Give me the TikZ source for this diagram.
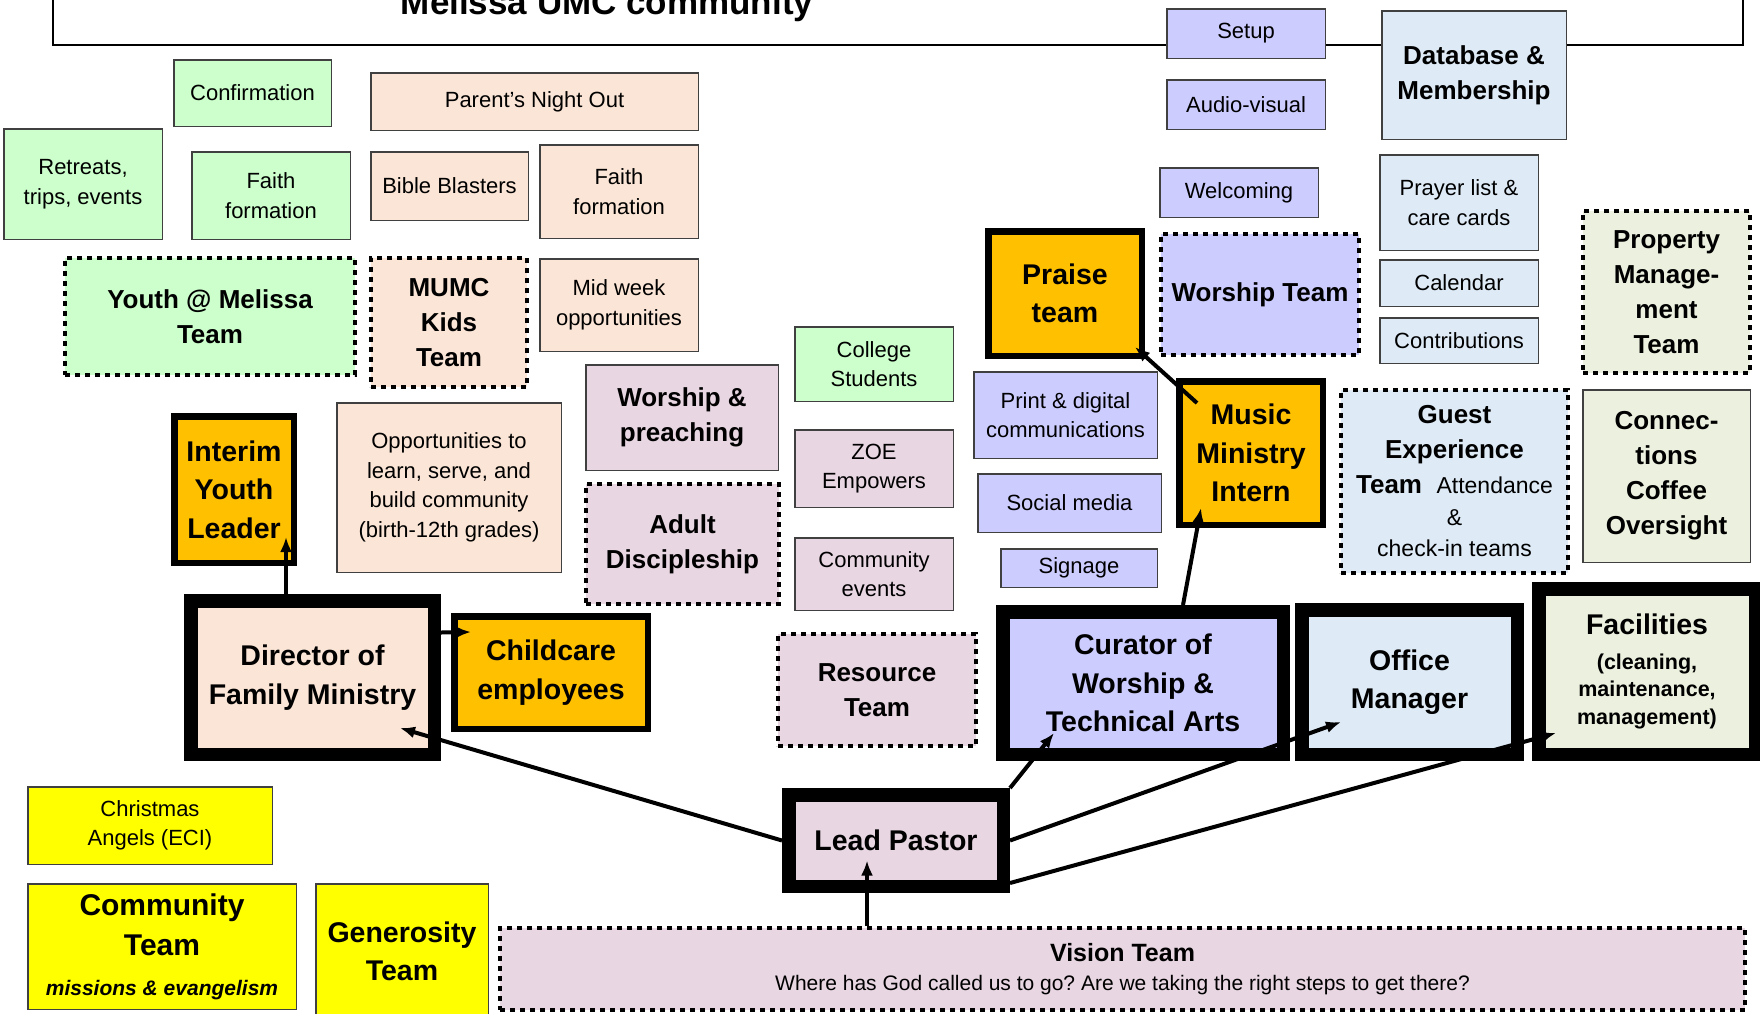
\documentclass[tikz,border=0pt]{standalone}
\usepackage{fontspec}
\setmainfont{Liberation Sans}
\usepackage{tikz}
\usetikzlibrary{arrows.meta}
\frenchspacing
\definecolor{MUMCGreen}{HTML}{CCFFCC}
\definecolor{MUMCPeach}{HTML}{FBE5D6}
\definecolor{MUMCLilac}{HTML}{CCCCFF}
\definecolor{MUMCBlue}{HTML}{DEEBF7}
\definecolor{MUMCMauve}{HTML}{E8D6E2}
\definecolor{MUMCSage}{HTML}{EBF1DE}
\definecolor{MUMCOrange}{HTML}{FFC000}
\definecolor{MUMCYellow}{HTML}{FFFF00}
\definecolor{MUMCEdge}{HTML}{404040}
\newcommand{\smalltxt}{\fontsize{22}{29.5}\selectfont}
\newcommand{\teamtxt}{\bfseries\fontsize{26}{35}\selectfont}
\newcommand{\stafftxt}{\bfseries\fontsize{28.5}{38.5}\selectfont}
\newcommand{\titletxt}{\bfseries\fontsize{35}{40}\selectfont}
\newcommand{\notetxt}{\mdseries\fontsize{23}{31}\selectfont}
\newcommand{\dutytxt}{\fontsize{21.5}{27.5}\selectfont}
\tikzset{
    plainbox/.style={
        draw=MUMCEdge, line width=1.5pt, align=center, inner sep=2pt, font=\smalltxt
    },
    teambox/.style={
        draw=black, line width=4pt, dash pattern=on 5pt off 5pt, align=center, inner sep=2pt, font=\teamtxt
    },
    staffbox/.style={
        draw=black, line width=13.5pt, align=center, inner sep=2pt, font=\stafftxt
    },
    helperbox/.style={
        draw=black, line width=6.5pt, fill=MUMCOrange, align=center, inner sep=2pt, font=\stafftxt
    },
    sz/.style 2 args={
        minimum width=#1, minimum height=#2
    },
    ptr/.style={
        -{Latex[length=15pt, width=12pt]}, line width=4pt
    }
}
\begin{document}
\begin{tikzpicture}[x=1pt, y=-1pt]
\path[use as bounding box, clip] (0,0) rectangle (1760,1013);
\fill[white] (0,0) rectangle (1760,1013);
\node[draw=black, line width=1.5pt, sz={1690}{80}] (frame) at (898,5) {};
\node[font=\titletxt, anchor=base] (title) at (607,14) {Melissa UMC community};
% family ministry
\node[plainbox, fill=MUMCGreen, sz={157.5}{66.5}] (conf) at (252.5,93) {Confirmation};
\node[plainbox, fill=MUMCGreen, sz={158.5}{110.5}] (retreats) at (83,184) {Retreats,\\ trips, events};
\node[plainbox, fill=MUMCGreen, sz={158.5}{87.5}] (faithyouth) at (271,195.5) {Faith\\ formation};
\node[teambox, fill=MUMCGreen, sz={290}{117}] (youth) at (210,316.5) {Youth @ Melissa\\ Team};
\node[plainbox, fill=MUMCPeach, sz={327.5}{57.5}] (nightout) at (534.5,101.5) {Parent’s Night Out};
\node[plainbox, fill=MUMCPeach, sz={157.5}{68.5}] (blasters) at (449.5,186) {Bible Blasters};
\node[plainbox, fill=MUMCPeach, sz={158.5}{93.5}] (faithkids) at (619,191.5) {Faith\\ formation};
\node[teambox, fill=MUMCPeach, sz={156}{129}] (kids) at (449,322.5) {MUMC\\ Kids\\ Team};
\node[plainbox, fill=MUMCPeach, sz={158.5}{92.5}] (midweek) at (619,305) {Mid week\\ opportunities};
\node[plainbox, fill=MUMCPeach, sz={224.5}{169.5}] (opps) at (449,487.5) {Opportunities to\\ learn, serve, and\\ build community\\ (birth-12th grades)};
\node[helperbox, sz={119.5}{146.5}] (interim) at (234,489.5) {Interim\\ Youth\\ Leader};
\node[staffbox, fill=MUMCPeach, sz={243.5}{153.5}] (director) at (312.5,677.5) {Director of\\ Family Ministry};
\node[helperbox, sz={193.5}{112.5}] (childcare) at (551,672.5) {Childcare\\ employees};
% discipleship
\node[plainbox, fill=MUMCMauve, sz={192.5}{105.5}, font=\teamtxt] (preaching) at (682,417.5) {Worship \&\\ preaching};
\node[teambox, fill=MUMCMauve, sz={193}{120}] (adult) at (682.5,544) {Adult\\ Discipleship};
\node[plainbox, fill=MUMCGreen, sz={158.5}{74.5}] (college) at (874,364) {College\\ Students};
\node[plainbox, fill=MUMCMauve, sz={158.5}{77.5}] (zoe) at (874,468.5) {ZOE\\ Empowers};
\node[plainbox, fill=MUMCMauve, sz={158.5}{72.5}] (events) at (874,574) {Community\\ events};
\node[teambox, fill=MUMCMauve, sz={198}{112}] (resource) at (877,690) {Resource\\ Team};
\node[staffbox, fill=MUMCMauve, sz={214.5}{91.5}] (lead) at (896,840.5) {Lead Pastor};
\node[teambox, fill=MUMCMauve, sz={1245}{82}, font=\smalltxt] (vision) at (1122.5,969) {{\bfseries\fontsize{25}{30}\selectfont Vision Team}\\ \fontsize{21}{28}\selectfont Where has God called us to go? Are we taking the right steps to get there?};
% worship and technical arts
\node[plainbox, fill=MUMCLilac, sz={158.5}{49.5}] (setup) at (1246,33.5) {Setup};
\node[plainbox, fill=MUMCLilac, sz={158.5}{49.5}] (av) at (1246,104.5) {Audio-visual};
\node[plainbox, fill=MUMCLilac, sz={158.5}{49.5}] (welcome) at (1239,192.5) {Welcoming};
\node[helperbox, sz={153.5}{124.5}] (praise) at (1065,293.5) {Praise\\ team};
\node[teambox, fill=MUMCLilac, sz={198}{121}] (worship) at (1260,294.5) {Worship Team};
\node[plainbox, fill=MUMCLilac, sz={183.5}{86.5}] (printcom) at (1065.5,415) {Print \& digital\\ communications};
\node[plainbox, fill=MUMCLilac, sz={183.5}{58.5}] (social) at (1069.5,503) {Social media};
\node[plainbox, fill=MUMCLilac, sz={156.5}{38.5}] (signage) at (1079,568) {Signage};
\node[helperbox, sz={143.5}{143.5}] (music) at (1251,453) {Music\\ Ministry\\ Intern};
\node[staffbox, fill=MUMCLilac, sz={280.5}{142.5}] (curator) at (1143,683) {Curator of\\ Worship \&\\ Technical Arts};
% office
\node[plainbox, fill=MUMCBlue, sz={184.5}{128.5}, font=\teamtxt] (database) at (1474,75) {Database \&\\ Membership};
\node[plainbox, fill=MUMCBlue, sz={158.5}{95.5}] (prayer) at (1459,202.5) {Prayer list \&\\ care cards};
\node[plainbox, fill=MUMCBlue, sz={158.5}{46.5}] (calendar) at (1459,283) {Calendar};
\node[plainbox, fill=MUMCBlue, sz={158.5}{45.5}] (contrib) at (1459,340.5) {Contributions};
\node[teambox, fill=MUMCBlue, sz={227}{183}] (guest) at (1454.5,481.5) {Guest\\ Experience\\ Team\ \ {\notetxt Attendance}\\[-3pt] {\notetxt \&}\\[-4pt] {\notetxt check-in teams}};
\node[staffbox, fill=MUMCBlue, sz={215.5}{144.5}] (office) at (1409.5,682) {Office\\ Manager};
% facilities
\node[teambox, fill=MUMCSage, sz={167}{162}] (property) at (1666.5,292) {Property\\ Manage-\\ ment\\ Team};
\node[plainbox, fill=MUMCSage, sz={167.5}{172.5}, font=\teamtxt] (coffee) at (1666.5,476) {Connec-\\ tions\\ Coffee\\ Oversight};
\node[staffbox, fill=MUMCSage, sz={216.5}{165.5}] (facilities) at (1647,671.5) {Facilities\\[-4pt] {\dutytxt (cleaning,}\\[-11pt] {\dutytxt maintenance,}\\[-11pt] {\dutytxt management)}};
% community
\node[plainbox, fill=MUMCYellow, sz={244.5}{77.5}] (angels) at (150,825.5) {Christmas\\ Angels (ECI)};
\node[plainbox, fill=MUMCYellow, sz={268.5}{125.5}, font=\bfseries\fontsize{30}{40}\selectfont] (community) at (162,946.5) {Community\\ Team\\ \itshape\fontsize{21}{33}\selectfont missions \& evangelism};
\node[plainbox, fill=MUMCYellow, sz={172.5}{135.5}, font=\stafftxt] (generosity) at (402,951.5) {Generosity\\ Team};
% reporting lines
\draw[ptr] ([shift={(369,0)}]vision.north west) -- ([shift={(-29,20)}]lead.center);
\draw[ptr] (lead.west) -- ([shift={(87.5,50.5)}]director.center);
\draw[ptr] ([shift={(0,-45)}]director.east) -- ([shift={(-80,-40.5)}]childcare.center);
\draw[ptr] ([shift={(-26.5,0)}]director.north) -- ([shift={(52,47.5)}]interim.center);
\draw[ptr] (lead.north east) -- ([shift={(-89,50)}]curator.center);
\draw[ptr] (lead.east) -- ([shift={(-68.5,40)}]office.center);
\draw[ptr] ([shift={(0,-10)}]lead.south east) -- ([shift={(-91,61.5)}]facilities.center);
\draw[ptr] ([shift={(40,0)}]curator.north) -- ([shift={(-50,55)}]music.center);
\draw[ptr] ([shift={(-54,-50)}]music.center) -- ([shift={(70,53.5)}]praise.center);
\end{tikzpicture}
\end{document}
